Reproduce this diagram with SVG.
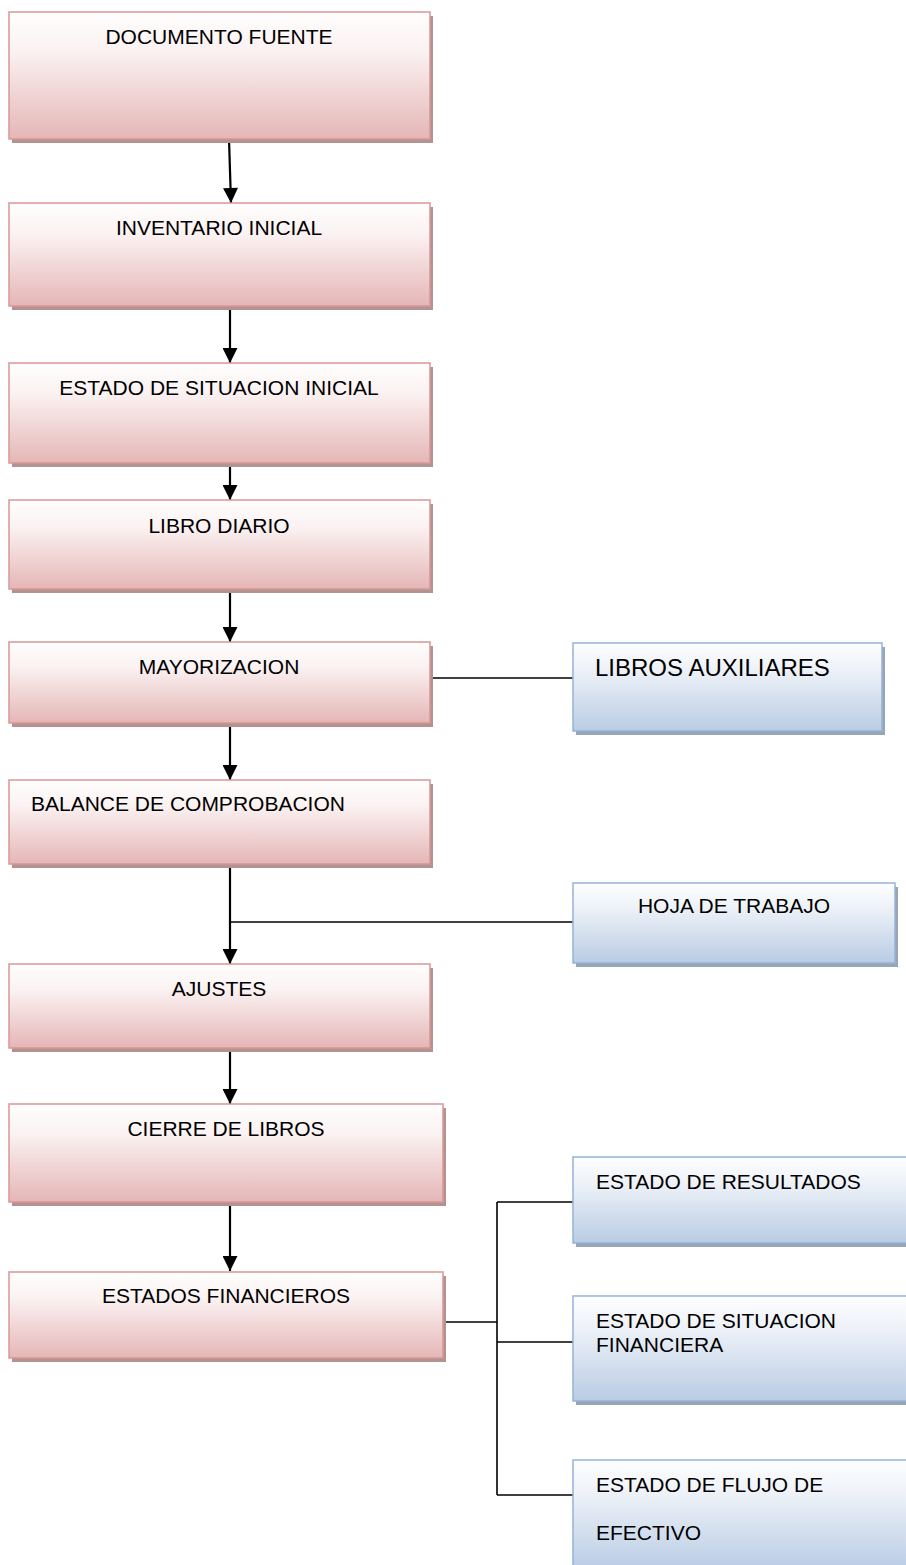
<svg xmlns="http://www.w3.org/2000/svg" width="906" height="1565" viewBox="0 0 906 1565">
<defs>
<linearGradient id="gp" x1="0" y1="0" x2="0" y2="1">
<stop offset="0" stop-color="#fffefe"/>
<stop offset="0.3" stop-color="#fbf2f2"/>
<stop offset="1" stop-color="#e5b6b6"/>
</linearGradient>
<linearGradient id="gb" x1="0" y1="0" x2="0" y2="1">
<stop offset="0" stop-color="#fdfeff"/>
<stop offset="0.3" stop-color="#eef2f8"/>
<stop offset="1" stop-color="#b9cce4"/>
</linearGradient>
<marker id="ah" viewBox="0 0 16 16" refX="16" refY="8" markerWidth="16" markerHeight="15" markerUnits="userSpaceOnUse" orient="auto">
<path d="M0,0 L16,8 L0,16 z" fill="#000"/>
</marker>
</defs>
<style>
.ps{fill:#b39292}
.pb{fill:url(#gp);stroke:#d99694;stroke-width:1.5}
.bs{fill:#98a5b4}
.bb{fill:url(#gb);stroke:#95b3d7;stroke-width:1.5}
text{font-family:"Liberation Sans",Arial,sans-serif;font-size:21px;fill:#000}
.c{text-anchor:middle}
.big{font-size:24px}
.arr{stroke:#000;stroke-width:2.2;fill:none;marker-end:url(#ah)}
.ln{stroke:#000;stroke-width:1.6;fill:none}
</style>

<g id="connectors">
<line class="arr" x1="229" y1="139" x2="231" y2="203"/>
<line class="arr" x1="230" y1="306" x2="230" y2="363"/>
<line class="arr" x1="230" y1="463" x2="230" y2="500"/>
<line class="arr" x1="230" y1="589" x2="230" y2="642"/>
<line class="arr" x1="230" y1="723" x2="230" y2="780"/>
<line class="arr" x1="230" y1="864" x2="230" y2="964"/>
<line class="ln" x1="230" y1="922" x2="573" y2="922"/>
<line class="arr" x1="230" y1="1048" x2="230" y2="1104"/>
<line class="arr" x1="230" y1="1202" x2="230" y2="1271"/>
<line class="ln" x1="430" y1="678" x2="573" y2="678"/>
<line class="ln" x1="443" y1="1322" x2="497" y2="1322"/>
<line class="ln" x1="497" y1="1202" x2="497" y2="1495"/>
<line class="ln" x1="497" y1="1202" x2="573" y2="1202"/>
<line class="ln" x1="497" y1="1342" x2="573" y2="1342"/>
<line class="ln" x1="497" y1="1495" x2="573" y2="1495"/>
</g>

<g id="n1">
<rect class="ps" x="12" y="16" width="421" height="127"/>
<rect class="pb" x="9" y="12" width="421" height="127"/>
<text class="c" x="219" y="44">DOCUMENTO FUENTE</text>
</g>
<g id="n2">
<rect class="ps" x="12" y="207" width="421" height="103"/>
<rect class="pb" x="9" y="203" width="421" height="103"/>
<text class="c" x="219" y="235">INVENTARIO INICIAL</text>
</g>
<g id="n3">
<rect class="ps" x="12" y="367" width="421" height="100"/>
<rect class="pb" x="9" y="363" width="421" height="100"/>
<text class="c" x="219" y="395">ESTADO DE SITUACION INICIAL</text>
</g>
<g id="n4">
<rect class="ps" x="12" y="504" width="421" height="89"/>
<rect class="pb" x="9" y="500" width="421" height="89"/>
<text class="c" x="219" y="533">LIBRO DIARIO</text>
</g>
<g id="n5">
<rect class="ps" x="12" y="646" width="421" height="81"/>
<rect class="pb" x="9" y="642" width="421" height="81"/>
<text class="c" x="219" y="674">MAYORIZACION</text>
</g>
<g id="n6">
<rect class="ps" x="12" y="784" width="421" height="84"/>
<rect class="pb" x="9" y="780" width="421" height="84"/>
<text x="31" y="811">BALANCE DE COMPROBACION</text>
</g>
<g id="n7">
<rect class="ps" x="12" y="968" width="421" height="84"/>
<rect class="pb" x="9" y="964" width="421" height="84"/>
<text class="c" x="219" y="996">AJUSTES</text>
</g>
<g id="n8">
<rect class="ps" x="12" y="1108" width="434" height="98"/>
<rect class="pb" x="9" y="1104" width="434" height="98"/>
<text class="c" x="226" y="1136">CIERRE DE LIBROS</text>
</g>
<g id="n9">
<rect class="ps" x="12" y="1276" width="434" height="86"/>
<rect class="pb" x="9" y="1272" width="434" height="86"/>
<text class="c" x="226" y="1303">ESTADOS FINANCIEROS</text>
</g>

<g id="n10">
<rect class="bs" x="576" y="647" width="309" height="88"/>
<rect class="bb" x="573" y="643" width="309" height="88"/>
<text class="big" x="595" y="676">LIBROS AUXILIARES</text>
</g>
<g id="n11">
<rect class="bs" x="576" y="887" width="322" height="80"/>
<rect class="bb" x="573" y="883" width="322" height="80"/>
<text class="c" x="734" y="913">HOJA DE TRABAJO</text>
</g>
<g id="n12">
<rect class="bs" x="576" y="1161" width="340" height="86"/>
<rect class="bb" x="573" y="1157" width="340" height="86"/>
<text x="596" y="1189">ESTADO DE RESULTADOS</text>
</g>
<g id="n13">
<rect class="bs" x="576" y="1300" width="340" height="105"/>
<rect class="bb" x="573" y="1296" width="340" height="105"/>
<text x="596" y="1328">ESTADO DE SITUACION</text>
<text x="596" y="1352">FINANCIERA</text>
</g>
<g id="n14">
<rect class="bs" x="576" y="1464" width="340" height="110"/>
<rect class="bb" x="573" y="1460" width="340" height="110"/>
<text x="596" y="1492">ESTADO DE FLUJO DE</text>
<text x="596" y="1540">EFECTIVO</text>
</g>
</svg>
